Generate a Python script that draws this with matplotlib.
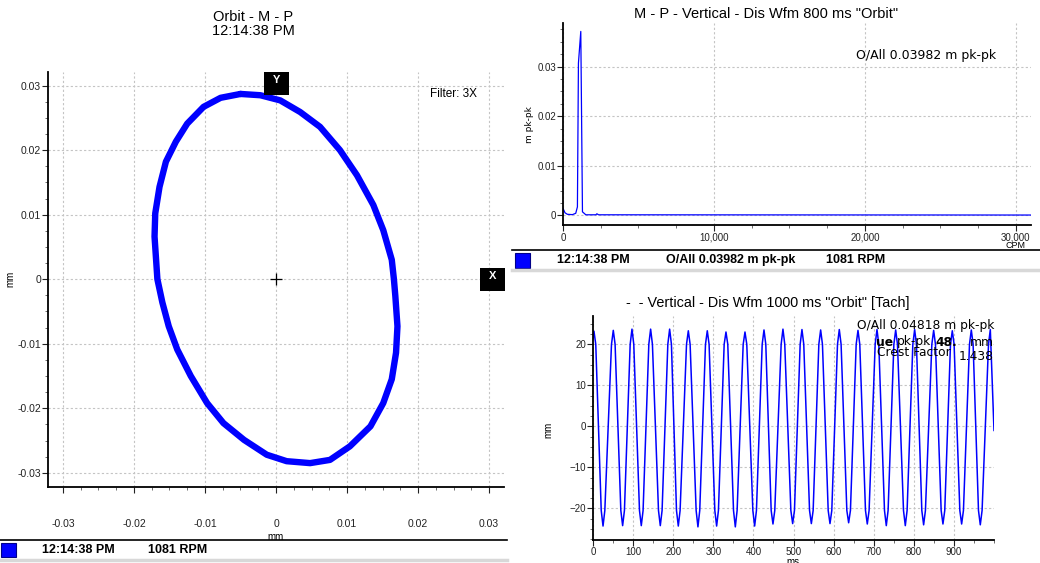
import numpy as np
import matplotlib
matplotlib.use("Agg")
import matplotlib.pyplot as plt
from matplotlib.patches import Rectangle
from matplotlib.lines import Line2D
from matplotlib.ticker import MultipleLocator, FuncFormatter

plt.rcParams['font.family'] = ['Liberation Sans', 'DejaVu Sans']

# orbit (mm), read round the loop clockwise from the top
orbit_x = [-0.0050, -0.0022, 0.0006, 0.0034, 0.0062, 0.0090, 0.0114, 0.0137, 0.0151, 0.0163,
           0.0166, 0.0168, 0.0171, 0.0169, 0.0163, 0.0151, 0.0133, 0.0104, 0.0076, 0.0048,
           0.0015, -0.0013, -0.0045, -0.0074, -0.0097, -0.0120, -0.0139, -0.0151, -0.0160, -0.0167,
           -0.0171, -0.0170, -0.0164, -0.0155, -0.0141, -0.0125, -0.0102, -0.0078, -0.0050]
orbit_y = [0.0287, 0.0285, 0.0277, 0.0259, 0.0236, 0.0200, 0.0161, 0.0115, 0.0076, 0.0030,
           0.0, -0.0026, -0.0073, -0.0114, -0.0155, -0.0192, -0.0228, -0.0259, -0.0280, -0.0285,
           -0.0282, -0.0272, -0.0249, -0.0223, -0.0192, -0.0150, -0.0109, -0.0073, -0.0036, 0.0,
           0.0066, 0.0102, 0.0143, 0.0182, 0.0213, 0.0241, 0.0267, 0.0281, 0.0287]

# spectrum (CPM, m pk-pk)
spec_cpm = [0, 133, 289, 622, 844, 955, 1022, 1178, 1289, 1511, 2178, 2244, 2356, 31000]
spec_amp = [0.0014, 0.0005, 0.0002, 0.00013, 0.0004, 0.0017, 0.0307, 0.0371, 0.0007, 0.0001,
            0.0001, 0.0003, 0.0001, 0.00005]

# waveform (ms, mm): each peak / trough with the shoulders read either side of it
wave_t = [0, 2.4, 6.9,
          20.5, 25.0, 29.5, 46.1, 50.6, 55.1,
          69.4, 73.9, 78.4, 92.7, 97.2, 101.7,
          115.9, 120.4, 124.9, 139.2, 143.7, 148.2,
          163.3, 167.8, 172.3, 186.6, 191.1, 195.6,
          208.2, 212.7, 217.2, 233.2, 237.7, 242.2,
          257.2, 261.7, 266.2, 280.5, 285.0, 289.5,
          303.8, 308.3, 312.8, 327.1, 331.6, 336.1,
          350.4, 354.9, 359.4, 374.5, 379.0, 383.5,
          398.6, 403.1, 407.6, 421.9, 426.4, 430.9,
          444.3, 448.8, 453.3, 469.2, 473.7, 478.2,
          493.4, 497.9, 502.4, 516.6, 521.1, 525.6,
          540.0, 544.5, 549.0, 563.2, 567.7, 572.2,
          586.5, 591.0, 595.5, 609.7, 614.2, 618.7,
          633.0, 637.5, 642.0, 656.3, 660.8, 665.3,
          679.5, 684.0, 688.5, 703.7, 708.2, 712.7,
          726.9, 731.4, 735.9, 750.3, 754.8, 759.3,
          774.3, 778.8, 783.3, 797.6, 802.1, 806.6,
          820.0, 824.5, 829.0, 845.0, 849.5, 854.0,
          868.2, 872.7, 877.2, 891.5, 896.0, 900.5,
          914.8, 919.3, 923.8, 938.9, 943.4, 947.9,
          961.3, 965.8, 970.3, 986.3, 990.8, 1000]
wave_v = [21.5, 23.2, 20.0,
          -20.5, -24.3, -20.5, 20.0, 23.4, 20.0,
          -20.5, -24.2, -20.5, 20.0, 23.7, 20.0,
          -20.5, -24.2, -20.5, 20.0, 23.7, 20.0,
          -20.5, -24.2, -20.5, 20.0, 23.7, 20.0,
          -20.5, -24.3, -20.5, 20.0, 23.3, 20.0,
          -20.5, -24.5, -20.5, 20.0, 23.3, 20.0,
          -20.5, -24.3, -20.5, 20.0, 23.0, 20.0,
          -20.5, -24.5, -20.5, 20.0, 23.0, 20.0,
          -20.5, -24.3, -20.5, 20.0, 23.5, 20.0,
          -20.5, -23.8, -20.5, 20.0, 23.7, 20.0,
          -20.5, -23.7, -20.5, 20.0, 23.6, 20.0,
          -20.5, -23.7, -20.5, 20.0, 23.5, 20.0,
          -20.5, -23.7, -20.5, 20.0, 23.6, 20.0,
          -20.5, -23.5, -20.5, 20.0, 23.4, 20.0,
          -20.5, -23.8, -20.5, 20.0, 23.6, 20.0,
          -20.5, -24.2, -20.5, 20.0, 23.5, 20.0,
          -20.5, -24.2, -20.5, 20.0, 23.6, 20.0,
          -20.5, -24.0, -20.5, 20.0, 23.4, 20.0,
          -20.5, -23.8, -20.5, 20.0, 23.3, 20.0,
          -20.5, -23.8, -20.5, 20.0, 23.5, 20.0,
          -20.5, -24.0, -20.5, 20.0, 23.6, -1.0]

time_txt = "12:14:38 PM"
rpm_txt = "1081 RPM"
BLUE = "#0000ff"
GRID = "#c4c4c4"

W, H = 1040, 563
fig = plt.figure(figsize=(W / 100, H / 100), dpi=100)


def box(x0, y0, x1, y1):
    return [x0 / W, 1 - y1 / H, (x1 - x0) / W, (y1 - y0) / H]


def ftext(x, y, s, **kw):
    fig.text(x / W, 1 - y / H, s, **kw)


def fline(x0, x1, y, color, lw):
    fig.add_artist(Line2D([x0 / W, x1 / W], [1 - y / H, 1 - y / H], color=color, lw=lw,
                          transform=fig.transFigure))


def frect(x0, y0, x1, y1, fc, ec=None, lw=0):
    fig.add_artist(Rectangle((x0 / W, 1 - y1 / H), (x1 - x0) / W, (y1 - y0) / H,
                             facecolor=fc, edgecolor=ec or fc, lw=lw, transform=fig.transFigure))


def style(ax, size):
    for s in ['top', 'right']:
        ax.spines[s].set_visible(False)
    for s in ['left', 'bottom']:
        ax.spines[s].set_linewidth(1.3)
    ax.grid(True, which='major', color=GRID, ls=(0, (2, 2)), lw=0.8)
    ax.tick_params(which='major', length=4, width=0.8, labelsize=size, colors='#222222')
    ax.tick_params(which='minor', length=2, width=0.6, colors='#555555')


gfmt = FuncFormatter(lambda v, p: '0' if abs(v) < 1e-12 else '%g' % v)

# ---- orbit
ax1 = fig.add_axes(box(48, 72, 504, 487))
ax1.plot(orbit_x, orbit_y, color=BLUE, lw=4.6, solid_joinstyle='round', solid_capstyle='round')
ax1.plot([0], [0], marker='+', ms=9, mew=0.9, color='black')
ax1.set_xlim(-0.0321, 0.0321)
ax1.set_ylim(-0.0322, 0.0321)
ax1.xaxis.set_major_locator(MultipleLocator(0.01))
ax1.yaxis.set_major_locator(MultipleLocator(0.01))
ax1.xaxis.set_minor_locator(MultipleLocator(0.0025))
ax1.yaxis.set_minor_locator(MultipleLocator(0.0025))
ax1.xaxis.set_major_formatter(gfmt)
ax1.yaxis.set_major_formatter(gfmt)
style(ax1, 7.5)
ax1.tick_params(axis='x', which='major', pad=19)
ax1.tick_params(axis='y', which='major', pad=1)
ftext(253, 17, "Orbit - M - P", ha='center', va='center', fontsize=10.5)
ftext(253, 31, time_txt, ha='center', va='center', fontsize=10.5)
ftext(453, 94, "Filter: 3X", ha='center', va='center', fontsize=8.5)
ftext(10, 279, "mm", ha='center', va='center', rotation=90, fontsize=7)
ftext(276, 540, "mm", ha='center', va='baseline', fontsize=7)
frect(264, 72, 289, 95, 'black')
ftext(276.5, 80, "Y", ha='center', va='center', color='white', fontsize=8, fontweight='bold')
frect(480, 268, 505, 291, 'black')
ftext(492.5, 276, "X", ha='center', va='center', color='white', fontsize=8, fontweight='bold')
# footer
fline(0, 507, 540, 'black', 1.2)
frect(1, 543, 16, 557, BLUE, '#000088', 0.8)
ftext(42, 550, time_txt, ha='left', va='center', fontsize=9, fontweight='bold')
ftext(148, 550, rpm_txt, ha='left', va='center', fontsize=9, fontweight='bold')
fline(0, 507, 559.5, '#d8d8d8', 2.5)

# ---- spectrum
ax2 = fig.add_axes(box(563, 23, 1031, 225))
ax2.plot(spec_cpm, spec_amp, color=BLUE, lw=0.9)
ax2.set_xlim(0, 31000)
ax2.set_ylim(-0.00196, 0.0388)
ax2.xaxis.set_major_locator(MultipleLocator(10000))
ax2.xaxis.set_minor_locator(MultipleLocator(2500))
ax2.yaxis.set_major_locator(MultipleLocator(0.01))
ax2.yaxis.set_minor_locator(MultipleLocator(0.0025))
ax2.xaxis.set_major_formatter(FuncFormatter(lambda v, p: '{:,.0f}'.format(v)))
ax2.yaxis.set_major_formatter(gfmt)
style(ax2, 7)
ax2.tick_params(axis='x', which='major', pad=1.5)
ax2.tick_params(axis='y', which='major', pad=1)
ax2.set_xticks([0, 10000, 20000, 30000])
ftext(766, 14, 'M - P - Vertical - Dis Wfm 800 ms "Orbit"', ha='center', va='center', fontsize=10.5)
ftext(926, 55, "O/All 0.03982 m pk-pk", ha='center', va='center', fontsize=9, family='DejaVu Sans')
ftext(530, 125, "m pk-pk", ha='center', va='center', rotation=90, fontsize=6.5, family='DejaVu Sans')
ftext(1016, 246, "CPM", ha='center', va='center', fontsize=6.5)
fline(512, 1040, 250, 'black', 1.2)
frect(515, 253, 530, 268, BLUE, '#000088', 0.8)
ftext(557, 260, time_txt, ha='left', va='center', fontsize=9, fontweight='bold')
ftext(666, 260, "O/All 0.03982 m pk-pk", ha='left', va='center', fontsize=9, fontweight='bold')
ftext(826, 260, rpm_txt, ha='left', va='center', fontsize=9, fontweight='bold')
fline(512, 1040, 270, '#d8d8d8', 2.5)

# ---- waveform
ax3 = fig.add_axes(box(593, 316, 994, 540))
ax3.plot(wave_t, wave_v, color=BLUE, lw=1.1)
ax3.set_xlim(0, 1000)
ax3.set_ylim(-27.7, 26.9)
ax3.xaxis.set_major_locator(MultipleLocator(100))
ax3.xaxis.set_minor_locator(MultipleLocator(50))
ax3.yaxis.set_major_locator(MultipleLocator(10))
ax3.yaxis.set_minor_locator(MultipleLocator(2.5))
ax3.set_xticks(np.arange(0, 901, 100))
style(ax3, 7)
ax3.tick_params(axis='x', which='major', pad=0.8)
ax3.tick_params(axis='y', which='major', pad=1)
ftext(768, 303, '-  - Vertical - Dis Wfm 1000 ms "Orbit" [Tach]', ha='center', va='center', fontsize=10.4)
ftext(548, 430, "mm", ha='center', va='center', rotation=90, fontsize=7)
ftext(793, 565, "ms", ha='center', va='baseline', fontsize=7)
dj = dict(family='DejaVu Sans', fontsize=8.8, va='center')
ftext(994, 326, "O/All 0.04818 m pk-pk", ha='right', **dj)
ftext(876, 342, "ue", ha='left', fontweight='bold', **dj)
ftext(897, 342, "pk-pk", ha='left', **dj)
ftext(935, 342, "48.", ha='left', fontweight='bold', **dj)
ftext(994, 342, "mm", ha='right', **dj)
ftext(877, 352, "Crest Factor", ha='left', **dj)
ftext(994, 357, "1.438", ha='right', **dj)

fig.savefig("out.png", dpi=100)
